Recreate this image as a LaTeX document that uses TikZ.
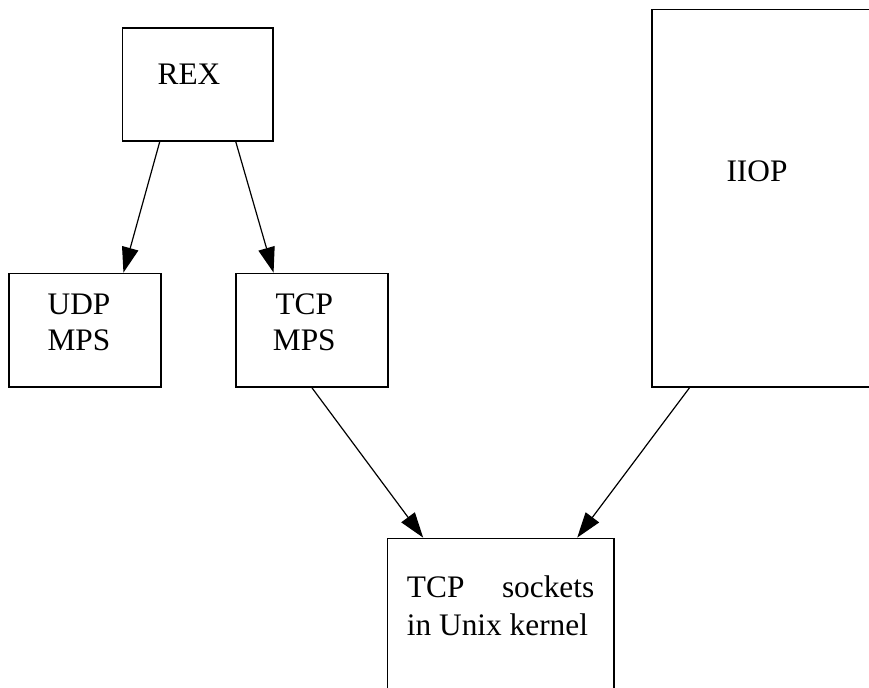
\documentclass[tikz,border=0pt]{standalone}
\usepackage{fontspec}
\setmainfont{Liberation Serif}
\usetikzlibrary{arrows.meta,calc,fit}

\tikzset{
  blk/.style={draw, line width=1.3pt, inner sep=0pt},
  lbl/.style={inner sep=0pt, font=\fontsize{23.5}{27}\selectfont, align=center},
  arr/.style={draw, line width=0.9pt, -{Triangle[length=19pt,width=12.5pt]}}
}

\begin{document}
\begin{tikzpicture}[x=0.75pt,y=0.75pt,yscale=-1,xscale=1]
            \clip (0,0) rectangle (869,688);
            % boxes
            \node [blk, fit={(122.5,28) (273,141)}] (rex) {};
            \node [blk, fit={(9,273.5) (161,387)}] (udp) {};
            \node [blk, fit={(236,273.5) (388,387)}] (tcpmps) {};
            \node [blk, fit={(652,9.5) (880,387)}] (iiop) {};
            \node [blk, fit={(387.5,538.5) (614,700)}] (sock) {};
            % labels (base = last line)
            \node [lbl, anchor=base] (rextxt) at (189,85) {REX};
            \node [lbl, anchor=base] (udptxt) at (79,351) {UDP\\MPS};
            \node [lbl, anchor=base] (tcpmpstxt) at (304.3,351) {TCP\\MPS};
            \node [lbl, anchor=base] (iioptxt) at (757,182) {IIOP};
            \node [lbl, anchor=base west, align=left, font=\fontsize{23.5}{28}\selectfont] (socktxt) at (406.7,635) {\makebox[140.5pt][s]{TCP sockets}\\in Unix kernel};
            % arrows
            \draw [arr] ($(rex.south west)!0.25!(rex.south east)$) -- ($(udp.north west)!0.75!(udp.north east)$);
            \draw [arr] ($(rex.south west)!0.75!(rex.south east)$) -- ($(tcpmps.north west)!0.25!(tcpmps.north east)$);
            \draw [arr] (tcpmps.south) -- ($(sock.north west)!0.16!(sock.north east)$);
            \draw [arr] ($(iiop.south west)!0.1667!(iiop.south east)$) -- ($(sock.north west)!0.835!(sock.north east)$);
        \end{tikzpicture}
\end{document}
